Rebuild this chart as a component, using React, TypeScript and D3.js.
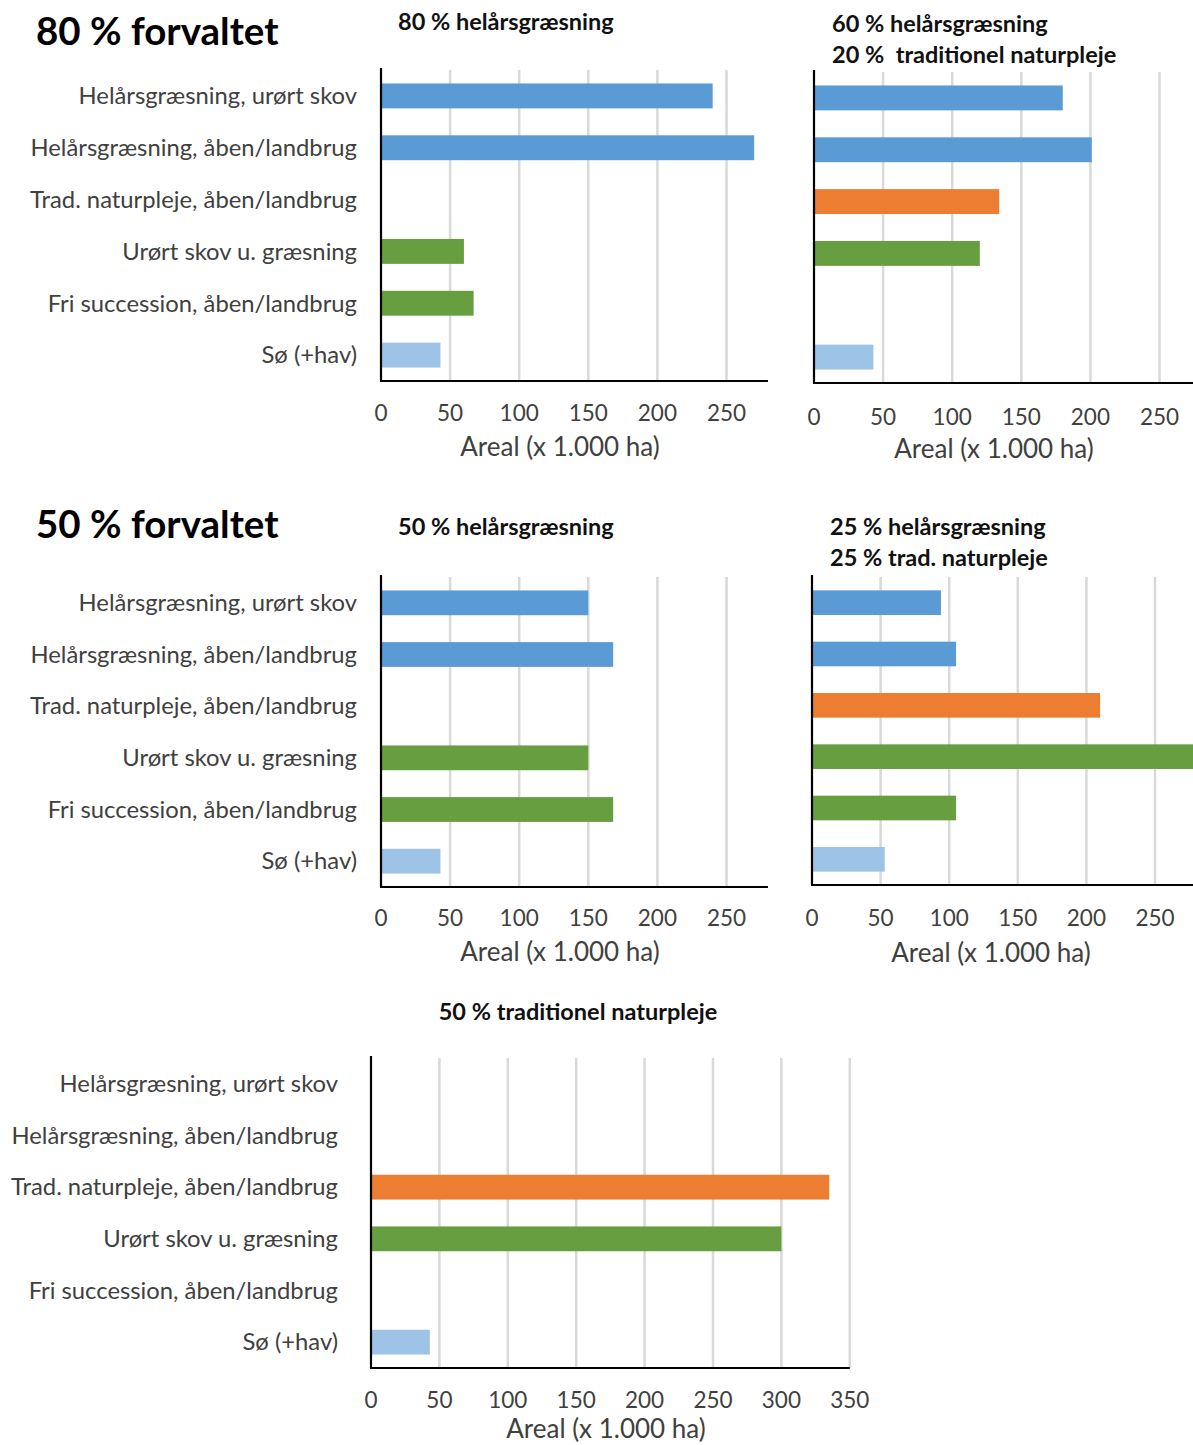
import React from "react";
import * as d3 from "d3";

const categories = [
  "Helårsgræsning, urørt skov",
  "Helårsgræsning, åben/landbrug",
  "Trad. naturpleje, åben/landbrug",
  "Urørt skov u. græsning",
  "Fri succession, åben/landbrug",
  "Sø (+hav)",
];
const barColors = ["#5B9BD5", "#5B9BD5", "#ED7D31", "#679E3F", "#679E3F", "#9DC3E6"];

const vals80Hel = [240, 270, 0, 60, 67, 43];
const vals60Hel20Trad = [180, 201, 134, 120, 0, 43];
const vals50Hel = [150, 168, 0, 150, 168, 43];
const vals25Hel25Trad = [94, 105, 210, 300, 105, 53];
const vals50Trad = [0, 0, 335, 300, 0, 43];

const ticks250 = [0, 50, 100, 150, 200, 250];
const ticks350 = [0, 50, 100, 150, 200, 250, 300, 350];

const FONT = "Lato, 'Open Sans', sans-serif";
const axisTitle = "Areal (x 1.000 ha)";

type PanelProps = {
  values: number[];
  axisX: number;
  top: number;
  bottom: number;
  pxPerUnit: number;
  domainMax: number;
  ticks: number[];
  showLabels: boolean;
  labelRight: number;
  tickY: number;
  axisTitleX: number;
  axisTitleY: number;
  titleLines: string[];
  titleX: number;
  titleBaselines: number[];
  titleAnchor?: string;
};

function Panel(p: PanelProps) {
  const x = d3
    .scaleLinear()
    .domain([0, p.domainMax])
    .range([p.axisX, p.axisX + p.pxPerUnit * p.domainMax]);
  const y = d3
    .scaleBand<string>()
    .domain(categories)
    .range([p.top, p.bottom])
    .paddingInner(0.52)
    .paddingOuter(0.26);
  return (
    <g>
      {p.titleLines.map((t, i) => (
        <text
          key={"t" + i}
          x={p.titleX}
          y={p.titleBaselines[i]}
          fontFamily={FONT}
          fontWeight="bold"
          fontSize={23.5}
          fill="#111"
          textAnchor={p.titleAnchor || "start"}
          style={{ whiteSpace: "pre" }}
        >
          {t}
        </text>
      ))}
      {p.ticks
        .filter((t) => t > 0)
        .map((t) => (
          <line
            key={"g" + t}
            x1={x(t)}
            x2={x(t)}
            y1={p.top}
            y2={p.bottom}
            stroke="#D9D9D9"
            strokeWidth={2.5}
          />
        ))}
      {categories.map((c, i) =>
        p.values[i] > 0 ? (
          <rect
            key={"b" + i}
            x={x(0)}
            y={y(c)}
            width={x(p.values[i]) - x(0)}
            height={y.bandwidth()}
            fill={barColors[i]}
          />
        ) : null
      )}
      <line x1={p.axisX} x2={p.axisX} y1={p.top - 2} y2={p.bottom} stroke="#000" strokeWidth={2.2} />
      <line x1={p.axisX - 1} x2={x(p.domainMax)} y1={p.bottom} y2={p.bottom} stroke="#000" strokeWidth={2.2} />
      {p.showLabels &&
        categories.map((c) => (
          <text
            key={"l" + c}
            x={p.labelRight}
            y={(y(c) as number) + y.bandwidth() / 2}
            dy="0.35em"
            textAnchor="end"
            fontFamily={FONT}
            fontSize={23.8}
            fill="#404040"
          >
            {c}
          </text>
        ))}
      {p.ticks.map((t) => (
        <text
          key={"k" + t}
          x={x(t)}
          y={p.tickY}
          dy="0.35em"
          textAnchor="middle"
          fontFamily={FONT}
          fontSize={22.5}
          fill="#404040"
        >
          {t}
        </text>
      ))}
      <text
        x={p.axisTitleX}
        y={p.axisTitleY}
        dy="0.35em"
        textAnchor="middle"
        fontFamily={FONT}
        fontSize={26}
        fill="#404040"
      >
        {axisTitle}
      </text>
    </g>
  );
}

export default function App() {
  return (
    <svg
      width={1193}
      height={1445}
      style={{ position: "absolute", left: 0, top: 0, background: "#fff" }}
    >
      <rect x={0} y={0} width={1193} height={1445} fill="#fff" />
      <text x={36} y={45} fontFamily={FONT} fontWeight="bold" fontSize={38.5} fill="#000">
        80 % forvaltet
      </text>
      <text x={36} y={538} fontFamily={FONT} fontWeight="bold" fontSize={38.5} fill="#000">
        50 % forvaltet
      </text>
      <Panel
        values={vals80Hel}
        axisX={381}
        top={70}
        bottom={381}
        pxPerUnit={1.382}
        domainMax={280}
        ticks={ticks250}
        showLabels={true}
        labelRight={357}
        tickY={413}
        axisTitleX={560}
        axisTitleY={447}
        titleLines={["80 % helårsgræsning"]}
        titleX={398}
        titleBaselines={[30]}
      />
      <Panel
        values={vals60Hel20Trad}
        axisX={814}
        top={72}
        bottom={383}
        pxPerUnit={1.382}
        domainMax={280}
        ticks={ticks250}
        showLabels={false}
        labelRight={0}
        tickY={417}
        axisTitleX={994}
        axisTitleY={449}
        titleLines={["60 % helårsgræsning", "20 %  traditionel naturpleje"]}
        titleX={832}
        titleBaselines={[32, 63]}
      />
      <Panel
        values={vals50Hel}
        axisX={381}
        top={577}
        bottom={887}
        pxPerUnit={1.382}
        domainMax={280}
        ticks={ticks250}
        showLabels={true}
        labelRight={357}
        tickY={918}
        axisTitleX={560}
        axisTitleY={952}
        titleLines={["50 % helårsgræsning"]}
        titleX={398}
        titleBaselines={[535]}
      />
      <Panel
        values={vals25Hel25Trad}
        axisX={812}
        top={577}
        bottom={885}
        pxPerUnit={1.372}
        domainMax={280}
        ticks={ticks250}
        showLabels={false}
        labelRight={0}
        tickY={918}
        axisTitleX={991}
        axisTitleY={953}
        titleLines={["25 % helårsgræsning", "25 % trad. naturpleje"]}
        titleX={830}
        titleBaselines={[535, 566]}
      />
      <Panel
        values={vals50Trad}
        axisX={371}
        top={1058}
        bottom={1368}
        pxPerUnit={1.368}
        domainMax={350}
        ticks={ticks350}
        showLabels={true}
        labelRight={338}
        tickY={1400}
        axisTitleX={606}
        axisTitleY={1429}
        titleLines={["50 % traditionel naturpleje"]}
        titleX={578}
        titleBaselines={[1020]}
        titleAnchor="middle"
      />
    </svg>
  );
}
